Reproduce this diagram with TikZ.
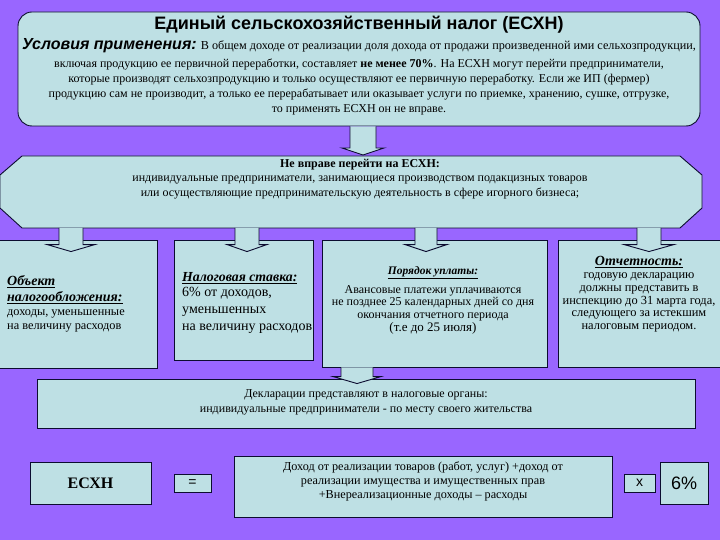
\documentclass[tikz,border=0pt]{standalone}
\usepackage{fontspec}
\setmainfont{Liberation Serif}
\newfontfamily\arial{Liberation Sans}
\usetikzlibrary{calc}

\definecolor{bgviolet}{RGB}{153,102,255}
\definecolor{boxblue}{RGB}{190,224,228}
\definecolor{edge}{RGB}{12,12,48}

\tikzset{
  box/.style={draw=edge,fill=boxblue,line width=0.9pt,inner sep=0pt},
  txt/.style={inner sep=0pt,align=center,font=\fontsize{11.5}{13}\selectfont},
  arr/.style={draw=edge,line width=0.9pt,line join=miter},
  head/.style={font=\bfseries\itshape\fontsize{14}{16}\selectfont},
}

% x, from, to, overshoot, half shaft, half head
\newcommand{\fatarrow}[6]{%
  \coordinate (fa) at (#1,0);
  \coordinate (fa1) at (fa |- #2);
  \coordinate (fa2) at (fa |- #3);
  \fill[boxblue] ($(fa1)+(-#5,0)$) -- ($(fa2)+(-#5,#4-7)$) -- ($(fa2)+(-#6,#4-7)$)
    -- ($(fa2)+(0,#4)$) -- ($(fa2)+(#6,#4-7)$) -- ($(fa2)+(#5,#4-7)$) -- ($(fa1)+(#5,0)$) -- cycle;
  \draw[arr] ($(fa1)+(-#5,0)$) -- ($(fa2)+(-#5,#4-7)$) -- ($(fa2)+(-#6,#4-7)$)
    -- ($(fa2)+(0,#4)$) -- ($(fa2)+(#6,#4-7)$) -- ($(fa2)+(#5,#4-7)$) -- ($(fa1)+(#5,0)$);
}

\begin{document}
\begin{tikzpicture}[x=1pt,y=-1pt]
\fill[bgviolet] (0,0) rectangle (720,540);
\useasboundingbox (0,0) rectangle (720,540);

% top block
\node[box,minimum width=682pt,minimum height=114pt,rounded corners=14pt] (top) at (359,69) {};
\node[txt,font=\arial\bfseries\fontsize{18}{20}\selectfont] (title) at (359,25) {Единый сельскохозяйственный налог (ЕСХН)};
\node[txt,anchor=west,font=\fontsize{12.2}{14}\selectfont] (cond) at (22,46) {{\arial\bfseries\itshape\fontsize{16}{18}\selectfont Условия применения:} В общем доходе от реализации доля дохода от продажи произведенной ими сельхозпродукции,};
\node[txt,font=\fontsize{12}{14.7}\selectfont] (condtext) at (359,87) {включая продукцию ее первичной переработки, составляет \textbf{не менее 70\%}. На ЕСХН могут перейти предприниматели,\\
которые производят сельхозпродукцию и только осуществляют ее первичную переработку. Если же ИП (фермер)\\
продукцию сам не производит, а только ее перерабатывает или оказывает услуги по приемке, хранению, сушке, отгрузке,\\
то применять ЕСХН он не вправе.};

% octagon
\draw[box] (22,156) -- (680,156) -- (702,175) -- (702,208) -- (680,228) -- (22,228) -- (0,208) -- (0,175) -- cycle;
\coordinate (octtop) at (351,156);
\coordinate (octbot) at (351,228);
\node[txt,font=\fontsize{12}{14.5}\selectfont] (octtext) at (360,179) {\textbf{Не вправе перейти на ЕСХН:}\\
индивидуальные предприниматели, занимающиеся производством подакцизных товаров\\
или осуществляющие предпринимательскую деятельность в сфере игорного бизнеса;};

\fatarrow{363}{top.south}{octtop}{-1}{13}{21}

% four boxes
\node[box,minimum width=158pt,minimum height=128pt] (obj) at (78,304) {};
\node[box,minimum width=139pt,minimum height=120pt] (rate) at (243.5,300) {};
\node[box,minimum width=225pt,minimum height=127pt] (pay) at (434.5,303.5) {};
\node[box,minimum width=163pt,minimum height=127pt] (rep) at (639.5,303.5) {};

\node[txt,head,align=left,anchor=west] (objhead) at (7,290) {\underline{Объект}\\\underline{налогообложения:}};
\node[txt,align=left,anchor=west,font=\fontsize{12.3}{14.5}\selectfont] (objtext) at (7,321) {доходы, уменьшенные\\на величину расходов};

\node[txt,head,anchor=west,font=\bfseries\itshape\fontsize{13.8}{16}\selectfont] (ratehead) at (182,278) {\underline{Налоговая ставка:}};
\node[txt,align=left,anchor=west,font=\fontsize{14}{17}\selectfont] (ratetext) at (182,310) {6\% от доходов,\\уменьшенных\\на величину расходов};

\node[txt,head,font=\bfseries\itshape\fontsize{11.5}{14}\selectfont] (payhead) at (433,273) {\underline{Порядок уплаты:}};
\node[txt,font=\fontsize{12}{12.5}\selectfont] (paytext) at (433,303) {Авансовые платежи уплачиваются\\не позднее 25 календарных дней со дня\\окончания отчетного периода};
\node[txt,font=\fontsize{13}{15}\selectfont] (paydate) at (433,328) {(т.е до 25 июля)};

\node[txt,head,font=\bfseries\itshape\fontsize{14}{16}\selectfont] (rephead) at (639,262) {\underline{Отчетность:}};
\node[txt,font=\fontsize{12.4}{12.75}\selectfont] (reptext) at (639,302.5) {годовую декларацию\\должны представить в\\инспекцию до 31 марта года,\\следующего за истекшим\\налоговым периодом.};

\fatarrow{71}{octbot}{obj.north}{12}{12}{24}
\fatarrow{247}{octbot}{rate.north}{12}{12}{20}
\fatarrow{426}{octbot}{pay.north}{12}{11}{21}
\fatarrow{649}{octbot}{rep.north}{12}{12}{25}

% declaration
\node[box,minimum width=658pt,minimum height=49pt] (decl) at (366,403.5) {};
\node[txt,font=\fontsize{12}{15}\selectfont] (decltext) at (366,402.5) {Декларации представляют в налоговые органы:\\индивидуальные предприниматели - по месту своего жительства};
\fatarrow{357}{pay.south}{decl.north}{5}{16}{24}

% formula row
\node[box,minimum width=121pt,minimum height=42pt,font=\bfseries\fontsize{16}{18}\selectfont] (esxn) at (90.5,483) {ЕСХН};
\node[box,minimum width=37pt,minimum height=18pt,font=\arial\fontsize{14}{16}\selectfont] (eq) at (192.5,483) {=};
\node[box,minimum width=378pt,minimum height=61pt] (base) at (423,486.5) {};
\node[txt,font=\fontsize{12.2}{14}\selectfont] (basetext) at (423,481) {Доход от реализации товаров (работ, услуг) +доход от\\реализации имущества и имущественных прав\\+Внереализационные доходы – расходы};
\node[box,minimum width=31pt,minimum height=18pt,font=\arial\fontsize{14}{16}\selectfont] (mul) at (639.5,483) {x};
\node[box,minimum width=48pt,minimum height=42pt,font=\arial\fontsize{18}{20}\selectfont] (pct) at (684,483) {6\%};

\end{tikzpicture}
\end{document}
